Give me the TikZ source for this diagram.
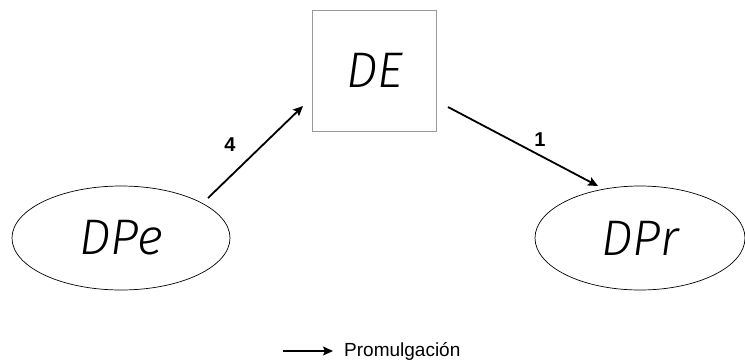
\documentclass[tikz,border=0pt]{standalone}
\usepackage{fontspec}
\setmainfont{Liberation Sans}
\newfontfamily\hand{Fira Sans Light Italic}
\usetikzlibrary{shapes.geometric,arrows.meta}
\begin{document}
\begin{tikzpicture}[x=1pt,y=-1pt,
  hw/.style={font=\hand\fontsize{50}{50}\selectfont},
  oval/.style={draw, ellipse, line width=0.7pt, inner sep=0pt, minimum width=218pt, minimum height=104pt, hw},
  arr/.style={line width=1.8pt, -{Stealth[length=10pt,width=9pt,inset=2pt]}},
  lab/.style={font=\bfseries\fontsize{20}{20}\selectfont}]
\useasboundingbox (0,0) rectangle (745,360);
\node[draw=black!40, line width=1pt, minimum width=124pt, minimum height=121pt, hw] (DE) at (374.5,70.5) {DE};
\node[oval] (DPe) at (121,238) {DPe};
\node[oval, minimum width=210pt] (DPr) at (640,238) {DPr};
\coordinate (a4s) at (208,198);
\coordinate (a4e) at (303,106);
\coordinate (a1s) at (448,107);
\coordinate (a1e) at (598,186);
\draw[arr] (a4s) -- (a4e);
\draw[arr] (a1s) -- (a1e);
\node[lab] (l4) at (230,145) {4};
\node[lab] (l1) at (540,140) {1};
\coordinate (ls) at (283,351);
\coordinate (le) at (333,351);
\draw[arr, line width=1.4pt] (ls) -- (le);
\node[anchor=west, font=\fontsize{19}{19}\selectfont, inner sep=0pt] (leg) at (344,351) {Promulgación};
\end{tikzpicture}
\end{document}
